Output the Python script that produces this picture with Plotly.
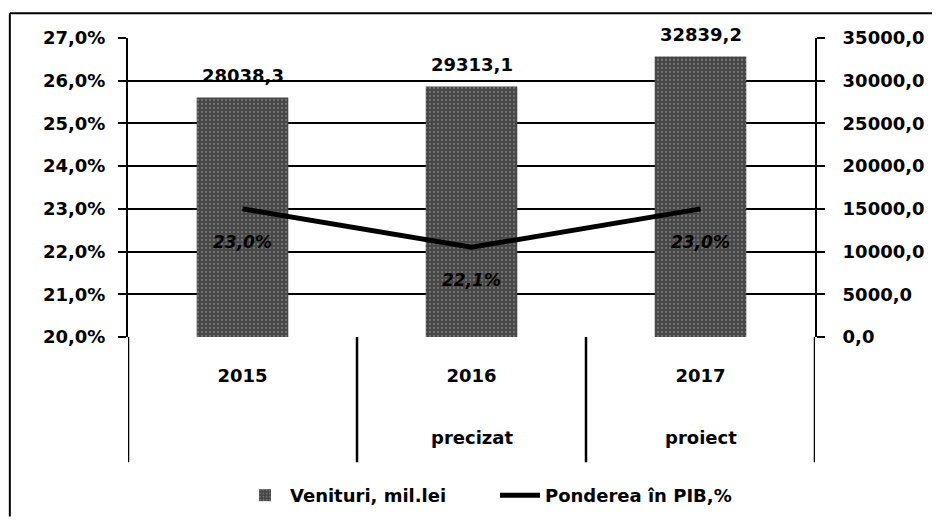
import plotly.graph_objects as go

categories = ["2015", "2016", "2017"]
sublabels = ["", "precizat", "proiect"]
venituri = [28038.3, 29313.1, 32839.2]
pondere = [0.230, 0.221, 0.230]
name_bar = "Venituri, mil.lei"
name_line = "Ponderea în PIB,%"

FONT = "DejaVu Sans"
fig = go.Figure()

fig.add_trace(go.Bar(
    x=categories, y=venituri, name=name_bar, yaxis="y", width=0.4,
    marker=dict(color="#464646", line=dict(width=0),
                pattern=dict(shape=".", fgcolor="#a0a0a0", size=4, solidity=0.25)),
))
fig.add_trace(go.Scatter(
    x=categories, y=pondere, name=name_line, yaxis="y2", mode="lines",
    line=dict(color="black", width=5),
))

ann = []
for i, v in enumerate(venituri):
    ann.append(dict(x=i, y=v, xref="x", yref="y", text=f"{v:.1f}".replace(".", ","),
                    showarrow=False, yshift=22,
                    font=dict(family=FONT, size=18, color="black", weight="bold")))
for i, p in enumerate(pondere):
    ann.append(dict(x=i, y=p, xref="x", yref="y2", text=f"{p*100:.1f}%".replace(".", ","),
                    showarrow=False, yshift=-33,
                    font=dict(family=FONT, size=17, color="black", weight="bold", style="italic")))
for i, s in enumerate(sublabels):
    if s:
        ann.append(dict(x=i, y=-0.336, xref="x", yref="paper", yanchor="middle",
                        text=s, showarrow=False,
                        font=dict(family=FONT, size=18, color="black", weight="bold")))

shapes = []
for k in range(len(categories) + 1):
    shapes.append(dict(type="line", xref="x", yref="paper", x0=k - 0.5, x1=k - 0.5,
                       y0=0, y1=-0.419, line=dict(color="black", width=2.5)))
# outer frame (left and top edges)
shapes.append(dict(type="line", xref="paper", yref="paper", x0=-0.172, x1=-0.172,
                   y0=1.083, y1=-0.6, line=dict(color="black", width=2)))
shapes.append(dict(type="line", xref="paper", yref="paper", x0=-0.172, x1=1.19,
                   y0=1.083, y1=1.083, line=dict(color="black", width=2)))

fig.update_layout(
    width=932, height=518, autosize=False,
    margin=dict(l=120, r=125, t=30, b=187),
    paper_bgcolor="white", plot_bgcolor="white",
    separators=",.",
    showlegend=True,
    legend=dict(orientation="h", x=0.163, xanchor="left", y=-0.53, yanchor="middle",
                font=dict(family=FONT, size=18, color="black", weight="bold"),
                entrywidth=200, entrywidthmode="pixels",
                itemwidth=40, tracegroupgap=0),
    xaxis=dict(type="category", range=[-0.5, 2.5], showgrid=False, ticks="",
               showline=False, ticklabelstandoff=26,
               tickfont=dict(family=FONT, size=18, color="black", weight="bold")),
    yaxis=dict(side="right", range=[0, 35000], dtick=5000, tickformat=".1f",
               showgrid=True, gridcolor="black", gridwidth=2,
               showline=True, linecolor="black", linewidth=2,
               ticks="outside", ticklen=8, tickwidth=2, tickcolor="black",
               ticklabelstandoff=14, zeroline=False,
               tickfont=dict(family=FONT, size=18, color="black", weight="bold")),
    yaxis2=dict(side="left", overlaying="y", range=[0.20, 0.27], dtick=0.01,
                tickformat=".1%", showgrid=False, zeroline=False,
                showline=True, linecolor="black", linewidth=2,
                ticks="outside", ticklen=8, tickwidth=2, tickcolor="black",
                ticklabelstandoff=9,
                tickfont=dict(family=FONT, size=18, color="black", weight="bold")),
    annotations=ann, shapes=shapes,
)

fig.write_html("out.html")
